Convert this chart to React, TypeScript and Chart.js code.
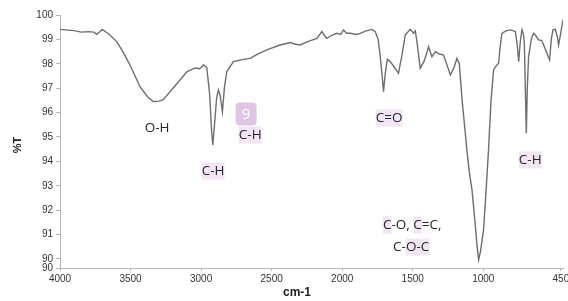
import React, { useEffect, useRef } from "react";
import { Chart, registerables } from "chart.js";

Chart.register(...registerables);

// ---- Data ----
const wavenumbers = [
  4000, 3900, 3850, 3800, 3760, 3740, 3720, 3700, 3650, 3596, 3550, 3504, 3433, 3380, 3340, 3300, 3270, 3199, 3099,
  3040, 3010, 2983, 2960, 2940, 2925, 2917, 2905, 2890, 2877, 2865, 2849, 2835, 2818, 2771, 2700, 2652, 2600, 2534,
  2450, 2369, 2330, 2298, 2240, 2179, 2144, 2125, 2109, 2070, 2038, 2010, 1991, 1970, 1943, 1900, 1872, 1830, 1789,
  1766, 1745, 1730, 1715, 1707, 1695, 1680, 1660, 1635, 1601, 1575, 1553, 1518, 1500, 1494, 1482, 1470, 1447, 1420,
  1400, 1388, 1364, 1340, 1310, 1282, 1260, 1234, 1210, 1187, 1170, 1163, 1150, 1140, 1116, 1100, 1080, 1060, 1045,
  1033, 1020, 998, 980, 963, 945, 927, 910, 892, 880, 868, 840, 809, 785, 773, 760, 749, 738, 726, 715, 709, 700,
  695, 688, 679, 660, 644, 631, 608, 585, 560, 540, 530, 518, 506, 489, 475, 466, 450, 435,
];
const transmittance = [
  99.41, 99.36, 99.3, 99.32, 99.3, 99.21, 99.3, 99.41, 99.2, 98.9, 98.45, 97.95, 97.06, 96.65, 96.45, 96.47, 96.52,
  97.0, 97.68, 97.83, 97.8, 97.95, 97.85, 96.8, 95.2, 94.67, 95.5, 96.6, 96.93, 96.7, 96.04, 97.0, 97.68, 98.09,
  98.18, 98.22, 98.4, 98.57, 98.75, 98.87, 98.8, 98.77, 98.92, 99.04, 99.32, 99.15, 99.04, 99.18, 99.25, 99.2,
  99.39, 99.25, 99.25, 99.2, 99.25, 99.35, 99.41, 99.32, 99.0, 98.29, 97.4, 96.86, 97.6, 98.18, 98.09, 97.9, 97.61,
  98.4, 99.18, 99.41, 99.3, 99.25, 99.35, 98.9, 97.82, 98.1, 98.45, 98.7, 98.29, 98.5, 98.4, 98.36, 98.0, 97.54,
  97.8, 98.22, 98.0, 97.47, 96.5, 95.9, 94.47, 93.6, 92.83, 91.6, 90.6, 89.96, 90.3, 91.19, 92.8, 94.47, 96.5, 97.75,
  97.9, 98.02, 98.7, 99.25, 99.35, 99.39, 99.35, 99.32, 98.8, 98.09, 98.9, 99.39, 99.2, 98.84, 96.5, 95.15, 97.0,
  98.29, 99.0, 99.25, 99.18, 98.98, 98.95, 98.6, 98.3, 98.16, 99.0, 99.39, 99.41, 99.1, 98.77, 99.3, 99.8,
];

const xTickValues = [4000, 3500, 3000, 2500, 2000, 1500, 1000, 450];
const yTickValues = [89.63, 90, 91, 92, 93, 94, 95, 96, 97, 98, 99, 100];
const xMin = 435;
const xMax = 4000;
const yMin = 89.63;
const yMax = 100;

const xAxisTitle = "cm-1";
const yAxisTitle = "%T";

// Annotation labels: anchor (wavenumber, %T) and text segments [text, highlighted]
const labelWavenumbers = [3312, 2915, 2652, 1667, 1504, 1511, 667];
const labelValues = [95.37, 93.6, 95.08, 95.78, 91.39, 90.49, 94.06];
const labelSegments: [string, boolean][][] = [
  [["O-H", false]],
  [["C-H", true]],
  [["C-H", true]],
  [["C=O", true]],
  [["C", true], ["-O, ", false], ["C", true], ["=C,", false]],
  [["C-", false], ["O-C", true]],
  [["C-H", true]],
];
const badgeText = "9";
const badgeWavenumber = 2681;
const badgeValue = 95.94;

const annotationPlugin = {
  id: "irAnnotations",
  afterDatasetsDraw(chart: any) {
    const ctx = chart.ctx as CanvasRenderingContext2D;
    const xs = chart.scales.x;
    const ys = chart.scales.y;
    const area = chart.chartArea;
    ctx.save();
    ctx.font = "13.5px 'Open Sans', sans-serif";
    ctx.textBaseline = "middle";
    ctx.textAlign = "left";
    labelSegments.forEach((segs, i) => {
      const cx = xs.getPixelForValue(labelWavenumbers[i]);
      const cy = ys.getPixelForValue(labelValues[i]);
      const widths = segs.map(([t]) => ctx.measureText(t).width);
      const total = widths.reduce((a, b) => a + b, 0);
      let x = cx - total / 2;
      segs.forEach(([t, hl], j) => {
        if (hl) {
          ctx.fillStyle = "#f3e5f3";
          ctx.fillRect(x, cy - 8.5, widths[j], 17);
        }
        x += widths[j];
      });
      x = cx - total / 2;
      segs.forEach(([t], j) => {
        ctx.fillStyle = "#262430";
        ctx.fillText(t, x, cy + 0.5);
        x += widths[j];
      });
    });
    // badge
    const bx = xs.getPixelForValue(badgeWavenumber);
    const by = ys.getPixelForValue(badgeValue);
    const bw = 21;
    const bh = 23;
    ctx.fillStyle = "#dfc6e5";
    ctx.beginPath();
    (ctx as any).roundRect(bx - bw / 2, by - bh / 2, bw, bh, 4);
    ctx.fill();
    ctx.fillStyle = "#ffffff";
    ctx.textAlign = "center";
    ctx.font = "15px 'Open Sans', sans-serif";
    ctx.fillText(badgeText, bx, by + 1);
    // axis titles
    ctx.fillStyle = "#222";
    ctx.font = "bold 12px 'Liberation Sans', Arial, sans-serif";
    ctx.textAlign = "center";
    ctx.fillText(xAxisTitle, area.left + 237, 293);
    ctx.translate(18, 145);
    ctx.rotate(-Math.PI / 2);
    ctx.font = "bold 11px 'Liberation Sans', Arial, sans-serif";
    ctx.fillText(yAxisTitle, 0, 0);
    ctx.restore();
  },
};

export default function App() {
  const canvasRef = useRef<HTMLCanvasElement | null>(null);

  useEffect(() => {
    if (!canvasRef.current) return;
    const points = wavenumbers.map((w, i) => ({ x: w, y: transmittance[i] }));
    const tickFont = { family: "'Liberation Sans', Arial, sans-serif", size: 10 };
    const chart = new Chart(canvasRef.current, {
      type: "line",
      data: {
        datasets: [
          {
            data: points,
            borderColor: "#6e6e6e",
            borderWidth: 1.4,
            pointRadius: 0,
            tension: 0,
            fill: false,
          },
        ],
      },
      options: {
        animation: false,
        responsive: false,
        maintainAspectRatio: false,
        layout: { padding: { top: 15, right: 5, left: 0, bottom: 0 } },
        plugins: { legend: { display: false }, tooltip: { enabled: false } },
        scales: {
          x: {
            type: "linear",
            min: xMin,
            max: xMax,
            reverse: true,
            afterBuildTicks: (scale: any) => {
              scale.ticks = xTickValues.map((v) => ({ value: v }));
            },
            afterFit: (scale: any) => {
              scale.height = 33;
              scale.paddingRight = 0;
              scale.paddingLeft = 0;
            },
            ticks: {
              autoSkip: false,
              maxRotation: 0,
              padding: 2,
              color: "#333",
              font: tickFont,
              callback: (v: any) => String(v),
            },
            grid: {
              drawOnChartArea: false,
              drawTicks: true,
              tickLength: 3,
              color: "#b5b5b5",
            },
            border: { color: "#b5b5b5", width: 1 },
          },
          y: {
            type: "linear",
            min: yMin,
            max: yMax,
            afterBuildTicks: (scale: any) => {
              scale.ticks = yTickValues.map((v) => ({ value: v }));
            },
            afterFit: (scale: any) => {
              scale.width = 60;
            },
            ticks: {
              autoSkip: false,
              padding: 3,
              color: "#333",
              font: tickFont,
              callback: (v: any) => String(Math.round(Number(v))),
            },
            grid: {
              drawOnChartArea: false,
              drawTicks: true,
              tickLength: 4,
              color: "#b5b5b5",
            },
            border: { color: "#b5b5b5", width: 1 },
          },
        },
      },
      plugins: [annotationPlugin],
    });
    return () => chart.destroy();
  }, []);

  return (
    <div style={{ position: "fixed", left: 0, top: 0, width: 568, height: 301, background: "#fff" }}>
      <canvas ref={canvasRef} width={568} height={301} style={{ width: 568, height: 301, display: "block" }} />
    </div>
  );
}
